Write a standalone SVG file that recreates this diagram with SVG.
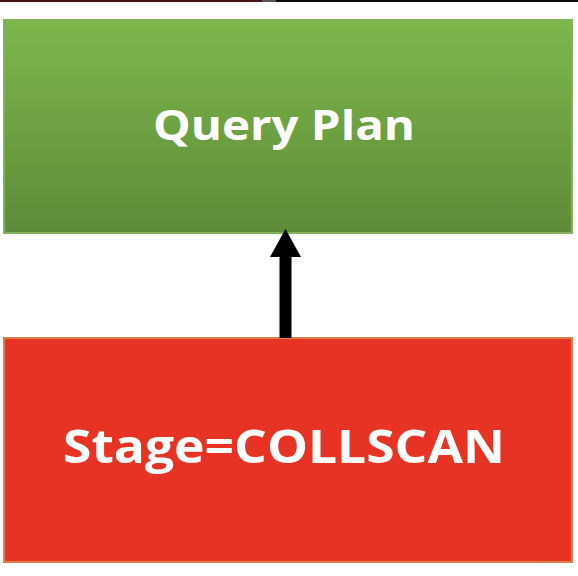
<svg xmlns="http://www.w3.org/2000/svg" width="578" height="576" viewBox="0 0 578 576">
  <style>
    .lbl { font-family: "Open Sans", "Liberation Sans", sans-serif; font-weight: bold; fill: #ffffff; text-anchor: middle; }
  </style>
  <defs>
    <linearGradient id="gGreen" x1="0" y1="0" x2="0" y2="1">
      <stop offset="0" stop-color="#7db74b"/>
      <stop offset="1" stop-color="#5e8b38"/>
    </linearGradient>
    <marker id="ah" viewBox="0 0 10 10" refX="9" refY="5" markerWidth="2.6" markerHeight="2.6" orient="auto" markerUnits="strokeWidth">
      <path d="M0,0 L10,5 L0,10 z" fill="#000"/>
    </marker>
  </defs>
  <rect x="0" y="0" width="578" height="576" fill="#ffffff"/>
  <rect x="0" y="0" width="262" height="2" fill="#4a1212"/>
  <rect x="262" y="0" width="14" height="2" fill="#555555"/>
  <rect x="276" y="0" width="302" height="2" fill="#0a0a0a"/>
  <g id="query-plan">
    <rect x="4" y="20" width="568" height="213" fill="url(#gGreen)" stroke="#82b35a" stroke-width="2"/>
    <text class="lbl" x="284" y="140" font-size="42" textLength="262" lengthAdjust="spacingAndGlyphs">Query Plan</text>
  </g>
  <g id="collscan">
    <rect x="4" y="338" width="568" height="224" fill="#e63323" stroke="#d98048" stroke-width="2"/>
    <text class="lbl" x="284" y="463" font-size="47" textLength="442" lengthAdjust="spacingAndGlyphs">Stage=COLLSCAN</text>
  </g>
  <g id="connectors">
    <line x1="285.5" y1="338" x2="285.5" y2="256" stroke="#000" stroke-width="12"/>
    <polygon points="285.5,229 270,257 301,257" fill="#000"/>
  </g>
</svg>
